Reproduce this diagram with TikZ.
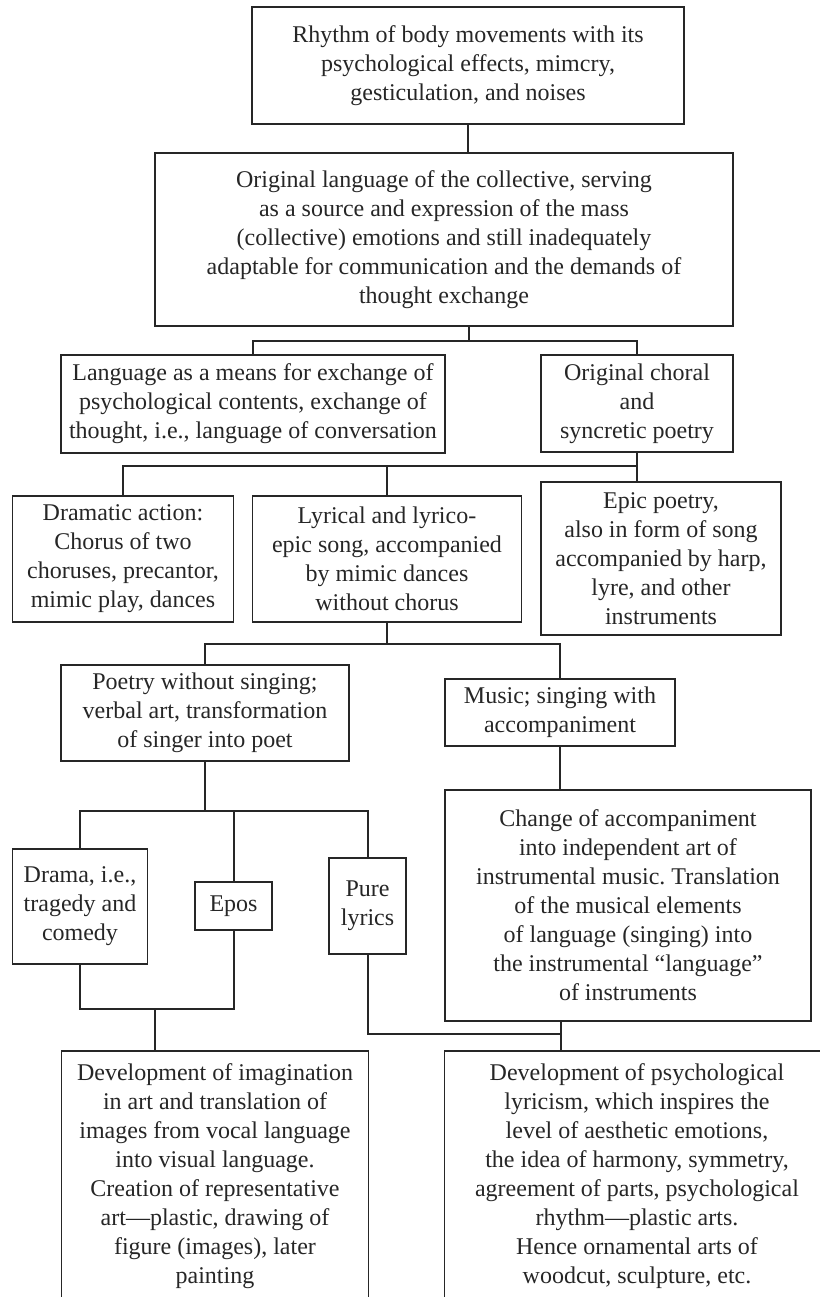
\documentclass[tikz,border=0pt]{standalone}
\usepackage{fontspec}
\setmainfont{Liberation Serif}
\usetikzlibrary{positioning}
\frenchspacing

\begin{document}
\begin{tikzpicture}[x=0.5pt, y=-0.5pt,
  box/.style={draw=black!85, line width=0.8pt, align=center, inner sep=0pt,
    text=black!85, font=\fontsize{12}{14.5}\selectfont},
  opentext/.style={align=center, inner xsep=0pt, inner ysep=6pt,
    text=black!85, font=\fontsize{12}{14.5}\selectfont},
  wh/.style 2 args={minimum width=#1*0.5pt, minimum height=#2*0.5pt},
  link/.style={draw=black!85, line width=1pt},
  frame/.style={draw=black!85, line width=0.8pt}]
\useasboundingbox (0,0) rectangle (820,1297);
\clip (0,0) rectangle (820,1297);
% origins
\node[box, wh={432}{117}] (rhythm) at (468,65.5) {Rhythm of body movements with its\\psychological effects, mimcry,\\gesticulation, and noises};
\node[box, wh={578}{173}] (orig) at (444,239.5) {Original language of the collective, serving\\as a source and expression of the mass\\(collective) emotions and still inadequately\\adaptable for communication and the demands of\\thought exchange};
% first split
\node[box, wh={384}{98}] (lang) at (253,404) {Language as a means for exchange of\\psychological contents, exchange of\\thought, i.e., language of conversation};
\node[box, wh={192}{97}] (choral) at (637,403.5) {Original choral\\and\\syncretic poetry};
% forms of choral poetry
\node[box, wh={221}{126}] (dram) at (123,559) {Dramatic action:\\Chorus of two\\choruses, precantor,\\mimic play, dances};
\node[box, wh={269}{126}] (lyr) at (387,559) {Lyrical and lyrico-\\epic song, accompanied\\by mimic dances\\without chorus};
\node[box, wh={240}{153}] (epic) at (661,558.5) {Epic poetry,\\also in form of song\\accompanied by harp,\\lyre, and other\\instruments};
% poetry and music
\node[box, wh={288}{96}] (poetry) at (205,713) {Poetry without singing;\\verbal art, transformation\\of singer into poet};
\node[box, wh={230}{67}] (music) at (560,712.5) {Music; singing with\\accompaniment};
\node[box, wh={366}{231}] (change) at (628,905.5) {Change of accompaniment\\into independent art of\\instrumental music. Translation\\of the musical elements\\of language (singing) into\\the instrumental ``language''\\of instruments};
\node[box, wh={135}{115}] (drama) at (80,906.5) {Drama, i.e.,\\tragedy and\\comedy};
\node[box, wh={77}{48}] (epos) at (233.5,906) {Epos};
\node[box, wh={77}{96}] (pure) at (367.5,906) {Pure\\lyrics};
% developments (cut off at the page edge)
\node[opentext, anchor=north, wh={306}{10}] (devimag) at (215,1051) {Development of imagination\\in art and translation of\\images from vocal language\\into visual language.\\Creation of representative\\art---plastic, drawing of\\figure (images), later\\painting};
\node[opentext, anchor=north, wh={384}{10}] (devpsy) at (637,1051) {Development of psychological\\lyricism, which inspires the\\level of aesthetic emotions,\\the idea of harmony, symmetry,\\agreement of parts, psychological\\rhythm---plastic arts.\\Hence ornamental arts of\\woodcut, sculpture, etc.};
\draw[frame] (devimag.north west) rectangle ([yshift=-40pt]devimag.south east);
\draw[frame] (devpsy.north west) rectangle ([yshift=-40pt]devpsy.south east);
% junctions
\coordinate (j1) at (469,341);
\coordinate (j2) at (637,466);
\coordinate (j3) at (387,644);
\coordinate (j4) at (205,811);
\coordinate (j5) at (155,1009);
\coordinate (j6) at (561,1034);
% connectors
\draw[link] (rhythm.south) -- (rhythm.south |- orig.north);
\draw[link] (j1 |- orig.south) -- (j1);
\draw[link] (lang.north) |- (j1) -| (choral.north);
\draw[link] (choral.south) -- (choral.south |- epic.north);
\draw[link] (dram.north) |- (j2);
\draw[link] (lyr.north) -- (lyr.north |- j2);
\draw[link] (lyr.south) -- (j3);
\draw[link] (poetry.north) |- (j3) -| (music.north);
\draw[link] (music.south) -- (music.south |- change.north);
\draw[link] (poetry.south) -- (j4);
\draw[link] (drama.north) |- (j4) -| (pure.north);
\draw[link] (epos.north) -- (epos.north |- j4);
\draw[link] (drama.south) |- (j5) -| (epos.south);
\draw[link] (j5) -- (j5 |- devimag.north);
\draw[link] (pure.south) |- (j6);
\draw[link] (j6 |- change.south) -- (j6 |- devpsy.north);
\end{tikzpicture}
\end{document}
